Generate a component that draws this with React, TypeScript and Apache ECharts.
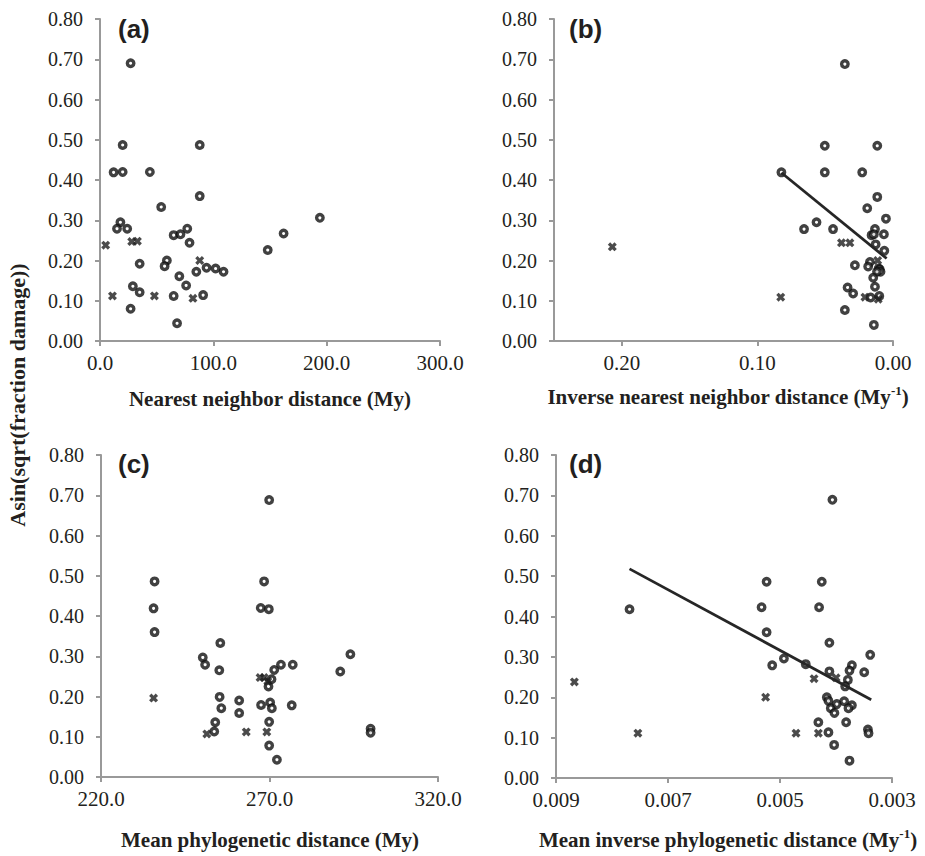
import React, { useEffect, useRef } from "react";
import * as echarts from "echarts";

// ---------- data ----------
const nnCircles = [
  [27, 0.69], [20, 0.487], [12, 0.419], [20, 0.42], [44, 0.42], [88, 0.487], [88, 0.36],
  [54, 0.333], [18, 0.295], [15, 0.279], [24, 0.279], [65, 0.263], [71, 0.265], [77, 0.279],
  [79, 0.244], [59, 0.2], [57, 0.186], [35, 0.192], [29, 0.136], [35, 0.121], [27, 0.08],
  [70, 0.161], [76, 0.138], [65, 0.112], [68, 0.044], [85, 0.172], [94, 0.182], [102, 0.18],
  [109, 0.172], [91, 0.114], [148, 0.226], [162, 0.267], [194, 0.306],
];
const nnCrosses = [[5, 0.238], [11, 0.112], [28, 0.247], [33, 0.248], [48, 0.112], [82, 0.106], [88, 0.2]];
const nnTicks = [0, 100, 200, 300];

const invNnCircles = [
  [0.0355, 0.688], [0.0503, 0.485], [0.0116, 0.485], [0.0503, 0.419], [0.0227, 0.419],
  [0.0823, 0.419], [0.0116, 0.358], [0.019, 0.33], [0.0052, 0.304], [0.0656, 0.278],
  [0.0564, 0.295], [0.0442, 0.278], [0.0133, 0.278], [0.0158, 0.263], [0.0141, 0.265],
  [0.0067, 0.265], [0.0128, 0.24], [0.0064, 0.224], [0.017, 0.196], [0.0183, 0.185],
  [0.0281, 0.188], [0.0106, 0.18], [0.0098, 0.178], [0.0092, 0.172], [0.0118, 0.172],
  [0.0146, 0.157], [0.0133, 0.135], [0.0335, 0.133], [0.0294, 0.118], [0.0355, 0.077],
  [0.0165, 0.108], [0.0101, 0.112], [0.0141, 0.04],
];
const invNnCrosses = [[0.207, 0.234], [0.0828, 0.109], [0.038, 0.244], [0.0318, 0.244], [0.0207, 0.109], [0.0109, 0.104], [0.0113, 0.2]];
const invNnTrend = [[0.0823, 0.418], [0.0047, 0.205]];
const invNnTicks = [0, 0.1, 0.2];

const mpdCircles = [
  [269.9, 0.688], [235.9, 0.486], [235.6, 0.419], [235.9, 0.36], [268.4, 0.486], [267.4, 0.42],
  [269.8, 0.417], [255.4, 0.333], [250.2, 0.297], [250.9, 0.279], [255.1, 0.265], [273.4, 0.279],
  [276.9, 0.279], [271.4, 0.266], [270.6, 0.243], [269.7, 0.225], [255.2, 0.199], [255.7, 0.171],
  [261.0, 0.19], [261.0, 0.159], [267.5, 0.179], [270.2, 0.185], [270.7, 0.171], [276.6, 0.178],
  [253.9, 0.136], [253.6, 0.113], [269.9, 0.137], [269.9, 0.078], [272.2, 0.043], [291, 0.262],
  [294, 0.305], [300, 0.12], [300, 0.11],
];
const mpdCrosses = [[235.6, 0.196], [251.4, 0.107], [263.1, 0.112], [269.2, 0.112], [267.2, 0.247], [268.4, 0.247], [269.5, 0.238]];
const mpdTicks = [220, 270, 320];

const invMpdCircles = [
  [0.004064, 0.689], [0.007687, 0.418], [0.005239, 0.486], [0.004254, 0.486], [0.005329, 0.423],
  [0.004302, 0.423], [0.005239, 0.361], [0.004118, 0.335], [0.00493, 0.296], [0.005139, 0.279],
  [0.00454, 0.282], [0.004118, 0.264], [0.003389, 0.305], [0.003716, 0.279], [0.003759, 0.266],
  [0.003496, 0.262], [0.003788, 0.243], [0.003836, 0.227], [0.004164, 0.2], [0.004135, 0.191],
  [0.004093, 0.173], [0.004028, 0.161], [0.003985, 0.183], [0.003854, 0.19], [0.003716, 0.18],
  [0.003777, 0.173], [0.004315, 0.138], [0.003819, 0.138], [0.004135, 0.113], [0.004033, 0.082],
  [0.003759, 0.043], [0.00343, 0.12], [0.003419, 0.111],
];
const invMpdCrosses = [[0.008672, 0.238], [0.007538, 0.111], [0.005257, 0.2], [0.004714, 0.111], [0.004315, 0.111], [0.004392, 0.246], [0.003998, 0.248]];
const invMpdTrend = [[0.007687, 0.518], [0.003371, 0.194]];
const invMpdTicks = [0.003, 0.005, 0.007, 0.009];

const panelLetters = ["(a)", "(b)", "(c)", "(d)"];
const xTitles = [
  "Nearest neighbor distance (My)",
  "Inverse nearest neighbor distance (My",
  "Mean phylogenetic distance (My)",
  "Mean inverse phylogenetic distance (My",
];
const yTitle = "Asin(sqrt(fraction damage))";

// ---------- styling ----------
const TEXT = "#231f20";
const AXIS = "#999999";
const SERIF = "Liberation Serif";
const SANS = "Liberation Sans";
const CROSS = "path://M0,2.6L2.6,0L5,2.4L7.4,0L10,2.6L7.6,5L10,7.4L7.4,10L5,7.6L2.6,10L0,7.4L2.4,5Z";

const grids = [
  { left: 100, top: 19, width: 340, height: 322 },
  { left: 554, top: 19, width: 339, height: 322 },
  { left: 101, top: 455, width: 337, height: 322 },
  { left: 556, top: 455, width: 336, height: 323 },
];

const axisLineStyle = { color: AXIS, width: 2 };

function onTick(v: number, ticks: number[]) {
  return ticks.some((t) => Math.abs(t - v) < 1e-9 * Math.max(1, Math.abs(t)) + 1e-12);
}

function xAxisFor(i: number) {
  const conf = [
    { min: 0, max: 300, interval: 100, inverse: false, ticks: nnTicks, dec: 1 },
    { min: 0, max: 0.25, interval: 0.1, inverse: true, ticks: invNnTicks, dec: 2 },
    { min: 220, max: 320, interval: 50, inverse: false, ticks: mpdTicks, dec: 1 },
    { min: 0.003, max: 0.009, interval: 0.002, inverse: true, ticks: invMpdTicks, dec: 3 },
  ][i];
  return {
    type: "value",
    gridIndex: i,
    min: conf.min,
    max: conf.max,
    interval: conf.interval,
    inverse: conf.inverse,
    splitLine: { show: false },
    axisLine: { show: true, onZero: false, lineStyle: axisLineStyle },
    axisTick: { show: true, length: 5, lineStyle: axisLineStyle },
    axisLabel: {
      margin: 11,
      fontFamily: SERIF,
      fontSize: 21,
      color: TEXT,
      showMaxLabel: i === 1 ? false : true,
      formatter: (v: number) => (onTick(v, conf.ticks) ? v.toFixed(conf.dec) : ""),
    },
  };
}

function yAxisFor(i: number) {
  return {
    type: "value",
    gridIndex: i,
    min: 0,
    max: 0.8,
    interval: 0.1,
    splitLine: { show: false },
    axisLine: { show: true, onZero: false, lineStyle: axisLineStyle },
    axisTick: { show: true, length: 5, lineStyle: axisLineStyle },
    axisLabel: {
      margin: 17,
      fontFamily: SERIF,
      fontSize: 20,
      color: TEXT,
      formatter: (v: number) => v.toFixed(2),
    },
  };
}

function circleSeries(i: number, data: number[][]) {
  return {
    type: "scatter",
    xAxisIndex: i,
    yAxisIndex: i,
    data,
    symbol: "circle",
    symbolSize: 6.5,
    itemStyle: { color: "#ffffff", borderColor: "#111111", borderWidth: 3.4 },
    z: 3,
  };
}
function crossSeries(i: number, data: number[][]) {
  return {
    type: "scatter",
    xAxisIndex: i,
    yAxisIndex: i,
    data,
    symbol: CROSS,
    symbolSize: 9,
    itemStyle: { color: "#1e1e1e" },
    z: 3,
  };
}
function trendSeries(i: number, data: number[][]) {
  return {
    type: "line",
    xAxisIndex: i,
    yAxisIndex: i,
    data,
    showSymbol: false,
    symbol: "none",
    lineStyle: { color: "#262626", width: 2.8 },
    z: 4,
  };
}

export default function App() {
  const ref = useRef<HTMLDivElement>(null);
  useEffect(() => {
    if (!ref.current) return;
    const chart = echarts.init(ref.current, undefined, { renderer: "svg" });
    const letterPos = [
      [118, 16], [569, 16], [118, 451], [569, 451],
    ];
    const titlePos = [
      [270, 399], [728, 397], [270, 840], [728, 840],
    ];
    const graphic: any[] = [];
    panelLetters.forEach((t, i) => {
      graphic.push({
        type: "text",
        x: letterPos[i][0],
        y: letterPos[i][1],
        style: { text: t, fontFamily: SANS, fontWeight: "bold", fontSize: 26, fill: TEXT },
      });
    });
    xTitles.forEach((t, i) => {
      const sup = i === 1 || i === 3;
      graphic.push({
        type: "text",
        x: titlePos[i][0],
        y: titlePos[i][1],
        style: {
          text: sup ? `{t|${t}}{s|-1}{t|)}` : `{t|${t}}`,
          align: "center",
          verticalAlign: "middle",
          fill: TEXT,
          rich: {
            t: { fontFamily: SERIF, fontWeight: "bold", fontSize: 21, lineHeight: 26, fill: TEXT, color: TEXT },
            s: { fontFamily: SERIF, fontWeight: "bold", fontSize: 13, lineHeight: 14, verticalAlign: "top", fill: TEXT, color: TEXT },
          },
        },
      });
    });
    graphic.push({
      type: "text",
      x: 17,
      y: 395,
      rotation: Math.PI / 2,
      style: {
        text: yTitle,
        align: "center",
        verticalAlign: "middle",
        fontFamily: SERIF,
        fontWeight: "bold",
        fontSize: 22,
        fill: TEXT,
      },
    });

    chart.setOption({
      animation: false,
      backgroundColor: "#ffffff",
      grid: grids,
      xAxis: [0, 1, 2, 3].map(xAxisFor),
      yAxis: [0, 1, 2, 3].map(yAxisFor),
      series: [
        circleSeries(0, nnCircles),
        crossSeries(0, nnCrosses),
        circleSeries(1, invNnCircles),
        crossSeries(1, invNnCrosses),
        trendSeries(1, invNnTrend),
        circleSeries(2, mpdCircles),
        crossSeries(2, mpdCrosses),
        circleSeries(3, invMpdCircles),
        crossSeries(3, invMpdCrosses),
        trendSeries(3, invMpdTrend),
      ],
      graphic,
    });
    return () => chart.dispose();
  }, []);
  return (
    <div
      ref={ref}
      style={{ position: "fixed", left: 0, top: 0, width: 925, height: 856, background: "#fff" }}
    />
  );
}
